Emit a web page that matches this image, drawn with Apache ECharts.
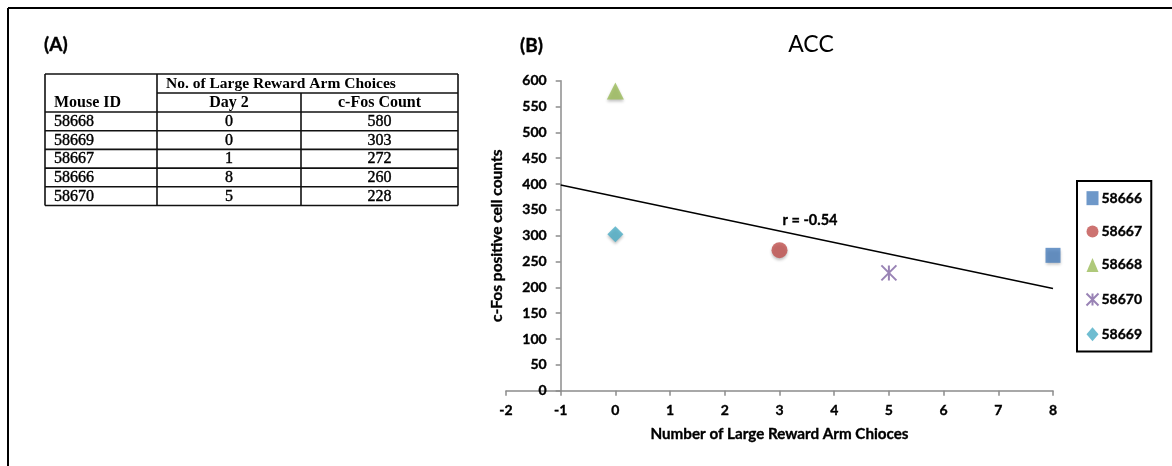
<!DOCTYPE html>
<html>
<head>
<meta charset="utf-8">
<script src="https://cdn.jsdelivr.net/npm/echarts@6/dist/echarts.min.js"></script>
<style>
html,body{margin:0;padding:0;background:#fff;}
#chart{width:1172px;height:466px;}
</style>
</head>
<body>
<div id="chart"></div>
<script>
// ---- Table (A) data ----
const tableMouseIds = ['58668', '58669', '58667', '58666', '58670'];
const tableDay2 = [0, 0, 1, 8, 5];
const tableCounts = [580, 303, 272, 260, 228];
const tableHeaderTop = 'No. of Large Reward Arm Choices';
const tableHeaders = ['Mouse ID', 'Day 2', 'c-Fos Count'];

// ---- Scatter (B) data ----
const seriesNames = ['58666', '58667', '58668', '58670', '58669'];
const seriesX = [8, 3, 0, 5, 0];
const seriesY = [262, 272, 580, 228, 303];
const trendX = [-1, 8];
const trendY = [398, 198];
const xTicks = { min: -2, max: 8, interval: 1 };
const yTicks = { min: 0, max: 600, interval: 50 };
const annotation = 'r = -0.54';

const colors = ['#4a7ebb', '#c0504d', '#9bbb59', '#8064a2', '#4bacc6'];
const symbols = ['rect', 'circle', 'triangle', 'path://M0,0L10,10M10,0L0,10M5,0L5,10', 'diamond'];
const sizes = [15, 16, 17, 15, 16];

const chart = echarts.init(document.getElementById('chart'), null, { renderer: 'canvas' });

const sansFont = 'Lato';
const serifFont = 'Liberation Serif';
const heavy = { textBorderColor: '#000', textBorderWidth: 0.35 };
const heavyG = { stroke: '#000', lineWidth: 0.35 };

// build table graphics
const tL = 45, tR = 458, tC1 = 157, tC2 = 301;
const tTop = 74, tH1 = 93, tH2 = 112, rowH = 18.7;
const lineStyle = { stroke: '#111', lineWidth: 1.6 };
const g = [];
function hline(x1, x2, y) { g.push({ type: 'line', shape: { x1, y1: y, x2, y2: y }, style: lineStyle, silent: true }); }
function vline(x, y1, y2) { g.push({ type: 'line', shape: { x1: x, y1, x2: x, y2 }, style: lineStyle, silent: true }); }
const tBottom = tH2 + rowH * tableMouseIds.length;
hline(tL, tR, tTop);
hline(tC1, tR, tH1);
hline(tL, tR, tH2);
for (let i = 1; i <= tableMouseIds.length; i++) hline(tL, tR, tH2 + rowH * i);
vline(tL, tTop, tBottom);
vline(tR, tTop, tBottom);
vline(tC1, tTop, tBottom);
vline(tC2, tH1, tBottom);
function txt(text, x, y, align, weight, size, font, extra) {
  g.push({ type: 'text', x, y, silent: true,
    style: Object.assign({ text, fill: '#000', font: (weight || 'normal') + ' ' + size + 'px "' + font + '"', textAlign: align, textVerticalAlign: 'middle' }, extra || {}) });
}
txt(tableHeaderTop, 166, (tTop + tH1) / 2 + 0.5, 'left', 'bold', 15.5, serifFont);
txt(tableHeaders[0], 54, (tH1 + tH2) / 2 + 0.5, 'left', 'bold', 16, serifFont);
txt(tableHeaders[1], (tC1 + tC2) / 2, (tH1 + tH2) / 2 + 0.5, 'center', 'bold', 16, serifFont);
txt(tableHeaders[2], (tC2 + tR) / 2, (tH1 + tH2) / 2 + 0.5, 'center', 'bold', 16, serifFont);
tableMouseIds.forEach((id, i) => {
  const y = tH2 + rowH * i + rowH / 2 + 0.5;
  const ex = { stroke: '#000', lineWidth: 0.4 };
  txt(id, 54, y, 'left', 'normal', 16, serifFont, ex);
  txt(String(tableDay2[i]), (tC1 + tC2) / 2, y, 'center', 'normal', 16, serifFont, ex);
  txt(String(tableCounts[i]), (tC2 + tR) / 2, y, 'center', 'normal', 16, serifFont, ex);
});
// panel labels, title, annotation
txt('(A)', 44, 45, 'left', 'bold', 19, sansFont, heavyG);
txt('(B)', 520, 46, 'left', 'bold', 19, sansFont, heavyG);
txt('ACC', 811, 45, 'center', 'normal', 23, sansFont);
txt(annotation, 810, 220, 'center', 'bold', 14.5, sansFont, heavyG);
// outer frame (top and left edges visible)
g.push({ type: 'line', shape: { x1: 8, y1: 8, x2: 1172, y2: 8 }, style: { stroke: '#000', lineWidth: 2 }, silent: true });
g.push({ type: 'line', shape: { x1: 8, y1: 8, x2: 8, y2: 466 }, style: { stroke: '#000', lineWidth: 2 }, silent: true });

const series = seriesNames.map((name, i) => {
  const isStar = i === 3;
  return {
    name, type: 'scatter',
    data: [[seriesX[i], seriesY[i]]],
    symbol: symbols[i], symbolSize: sizes[i],
    itemStyle: isStar
      ? { color: 'none', borderColor: colors[i], borderWidth: 2 }
      : { color: colors[i], shadowBlur: 3, shadowColor: 'rgba(0,0,0,0.3)', shadowOffsetY: 2 },
    z: 3
  };
});
series.push({
  name: 'trend', type: 'line',
  data: trendX.map((x, i) => [x, trendY[i]]),
  symbol: 'none', lineStyle: { color: '#000', width: 1.5 }, z: 2, silent: true
});

const axisGray = '#8c8c8c';
const axisText = Object.assign({ fontFamily: sansFont, fontWeight: 'bold', color: '#000' }, heavy);
chart.setOption({
  animation: false,
  backgroundColor: '#fff',
  textStyle: { fontFamily: sansFont },
  grid: { left: 506, right: 119, top: 80.7, bottom: 75.3, containLabel: false },
  xAxis: {
    type: 'value', min: xTicks.min, max: xTicks.max, interval: xTicks.interval,
    name: 'Number of Large Reward Arm Chioces', nameLocation: 'middle', nameGap: 36,
    nameTextStyle: Object.assign({ fontSize: 15.2 }, axisText),
    axisLine: { onZero: false, lineStyle: { color: axisGray, width: 1.5 } },
    axisTick: { show: true, length: 5, lineStyle: { color: axisGray, width: 1.5 } },
    axisLabel: Object.assign({ margin: 13, fontSize: 14 }, axisText),
    splitLine: { show: false }
  },
  yAxis: {
    type: 'value', min: yTicks.min, max: yTicks.max, interval: yTicks.interval,
    position: 'left', offset: -54.7,
    name: 'c-Fos positive cell counts', nameLocation: 'middle', nameGap: 56, nameRotate: 90,
    nameTextStyle: Object.assign({ fontSize: 15.5 }, axisText),
    axisLine: { show: true, onZero: false, lineStyle: { color: axisGray, width: 1.5 } },
    axisTick: { show: true, length: 5, lineStyle: { color: axisGray, width: 1.5 } },
    axisLabel: Object.assign({ margin: 14, fontSize: 14 }, axisText),
    splitLine: { show: false }
  },
  legend: {
    data: seriesNames, orient: 'vertical', left: 1077, top: 181,
    padding: [10, 9, 10, 7], itemGap: 19, itemWidth: 12, itemHeight: 14,
    borderColor: '#000', borderWidth: 2,
    textStyle: Object.assign({ fontSize: 14, padding: [0, 0, 0, -2] }, axisText)
  },
  graphic: g,
  series
});
</script>
</body>
</html>
